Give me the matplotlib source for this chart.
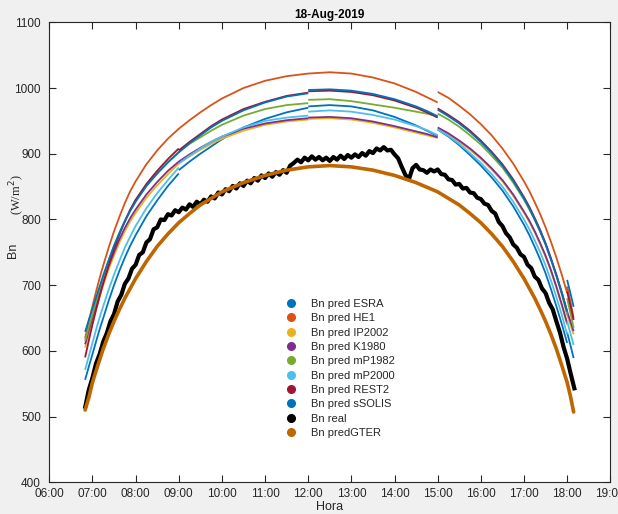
import numpy as np
import matplotlib
matplotlib.use("Agg")
import matplotlib.pyplot as plt
from matplotlib.lines import Line2D

nan = np.nan

# Time grid (hours) of the model predictions; the models are refitted every
# three hours, so each block is drawn as its own segment (NaN breaks the line).
block_a = [6.83, 6.92, 7.0, 7.083, 7.167, 7.25, 7.375, 7.5, 7.625, 7.75, 7.875,
           8.0, 8.25, 8.5, 8.75, 9.0]
block_b = [9.0, 9.25, 9.5, 9.75, 10.0, 10.5, 11.0, 11.5, 12.0]
block_c = [12.0, 12.5, 13.0, 13.5, 14.0, 14.5, 14.75, 15.0]
block_d = [15.0, 15.25, 15.5, 15.75, 16.0, 16.25, 16.5, 16.75, 17.0, 17.125,
           17.25, 17.375, 17.5, 17.625, 17.75, 17.875, 18.0]
block_e = [18.0, 18.075, 18.15]
hours = block_a + [nan] + block_b + [nan] + block_c + [nan] + block_d + [nan] + block_e

esra = [556, 577, 595, 614, 633, 650, 676, 700, 722, 742, 760, 776, 805, 829, 851, 870, nan,
        875, 888, 900, 911, 922, 940, 953, 963, 970, nan,
        972, 974, 972, 966, 956, 943, 935, 927, nan,
        937, 926, 913, 898, 882, 864, 844, 820, 792, 776, 758, 739, 718, 694, 668, 641, 612, nan,
        628, 609, 589]
he1 = [619, 646, 668, 690, 711, 730, 757, 782, 804, 825, 843, 858, 884, 905, 923, 938, nan,
       938, 951, 963, 974, 984, 1000, 1011, 1018, 1022, nan,
       1022, 1024, 1022, 1016, 1007, 994, 986, 978, nan,
       994, 985, 973, 960, 945, 928, 908, 885, 858, 843, 826, 808, 788, 766, 742, 716, 688, nan,
       698, 675, 650]
ip2002 = [605, 627, 645, 664, 683, 700, 724, 745, 765, 782, 797, 810, 833, 852, 869, 885, nan,
          885, 896, 906, 915, 923, 935, 944, 949, 952, nan,
          953, 954, 952, 947, 940, 932, 928, 924, nan,
          938, 929, 918, 906, 892, 876, 858, 836, 810, 796, 780, 762, 743, 721, 696, 669, 640, nan,
          655, 640, 625]
k1980 = [610, 632, 650, 669, 688, 705, 729, 750, 770, 787, 802, 815, 838, 857, 874, 888, nan,
         888, 899, 909, 918, 926, 938, 946, 951, 954, nan,
         955, 956, 954, 949, 942, 934, 930, 925, nan,
         940, 931, 920, 908, 894, 878, 860, 838, 812, 798, 782, 764, 745, 723, 698, 671, 642, nan,
         660, 645, 630]
mp1982 = [615, 637, 655, 675, 694, 712, 737, 760, 780, 798, 814, 828, 851, 870, 887, 903, nan,
          903, 915, 925, 935, 944, 958, 968, 974, 977, nan,
          982, 983, 980, 975, 970, 964, 961, 957, nan,
          961, 952, 941, 928, 914, 897, 879, 856, 830, 815, 799, 781, 762, 739, 714, 686, 655, nan,
          680, 658, 635]
mp2000 = [571, 593, 612, 632, 651, 668, 693, 716, 737, 757, 774, 790, 817, 840, 860, 879, nan,
          885, 897, 908, 918, 926, 940, 950, 955, 958, nan,
          964, 966, 964, 959, 952, 942, 936, 928, nan,
          937, 927, 915, 901, 886, 869, 850, 827, 800, 785, 768, 750, 730, 707, 682, 655, 625, nan,
          645, 627, 609]
rest2 = [590, 617, 640, 662, 683, 703, 730, 755, 777, 797, 815, 830, 854, 874, 892, 908, nan,
         905, 918, 930, 942, 952, 968, 979, 988, 993, nan,
         995, 996, 994, 989, 981, 970, 963, 955, nan,
         969, 959, 948, 935, 920, 903, 884, 861, 834, 819, 802, 784, 764, 741, 716, 689, 660, nan,
         690, 669, 647]
ssolis = [629, 648, 664, 681, 698, 715, 738, 760, 779, 797, 813, 827, 851, 870, 887, 902, nan,
          902, 916, 928, 940, 950, 966, 978, 987, 992, nan,
          997, 998, 996, 991, 983, 972, 965, 957, nan,
          967, 957, 946, 933, 918, 901, 882, 859, 832, 817, 800, 782, 762, 739, 715, 689, 660, nan,
          708, 688, 667]

# GTER prediction (one continuous curve)
gter_hours = [6.83, 6.92, 7.0, 7.125, 7.25, 7.375, 7.5, 7.625, 7.75, 7.875,
              8.0, 8.25, 8.5, 8.75, 9.0, 9.25, 9.5, 10.0, 10.5, 11.0,
              11.5, 12.0, 12.5, 13.0, 13.5, 14.0, 14.5, 15.0, 15.5, 15.75,
              16.0, 16.25, 16.5, 16.75, 17.0, 17.125, 17.25, 17.375, 17.5, 17.625,
              17.75, 17.875, 18.0, 18.08, 18.15]
gter = [510, 530, 552, 578, 603, 625, 645, 663, 680, 695,
        710, 736, 759, 778, 795, 809, 822, 842, 856, 867,
        875, 880, 882, 880, 875, 867, 856, 842, 822, 809,
        795, 778, 759, 736, 710, 695, 680, 663, 645, 625,
        603, 578, 552, 530, 507]

# Measured Bn, one value every 5 minutes from 06:50
real_start_min = 6 * 60 + 50
real = [515, 541, 559, 581, 595, 614, 627, 645, 656, 675, 685, 702,
        710, 725, 731, 746, 750, 765, 770, 785, 788, 800, 799, 808,
        806, 814, 811, 818, 815, 823, 819, 827, 823, 830, 827, 835,
        832, 841, 838, 846, 843, 851, 847, 855, 851, 859, 855, 863,
        859, 867, 863, 870, 865, 872, 868, 875, 871, 882, 886, 891,
        887, 894, 890, 896, 891, 895, 890, 894, 889, 895, 891, 897,
        892, 898, 894, 899, 895, 901, 897, 904, 901, 908, 905, 910,
        905, 906, 899, 893, 880, 868, 861, 878, 883, 876, 875, 871,
        876, 873, 876, 869, 868, 861, 860, 853, 854, 847, 848, 841,
        840, 833, 831, 824, 822, 813, 809, 796, 790, 779, 773, 762,
        757, 747, 743, 731, 726, 713, 708, 695, 688, 673, 663, 645,
        628, 606, 588, 565, 543]
real_hours = (real_start_min + 5 * np.arange(len(real))) / 60.0

labels = ["Bn pred ESRA", "Bn pred HE1", "Bn pred IP2002", "Bn pred K1980",
          "Bn pred mP1982", "Bn pred mP2000", "Bn pred REST2", "Bn pred sSOLIS",
          "Bn real", "Bn predGTER"]
colors = ["#0072BD", "#D95319", "#EDB120", "#7E2F8E", "#77AC30", "#4DBEEE",
          "#A2142F", "#0072BD", "#000000", "#BF6600"]

x_ticks = list(range(6, 20))
x_tick_labels = ["%02d:00" % h for h in x_ticks]
y_ticks = list(range(400, 1101, 100))

plt.rcParams["font.family"] = ["Liberation Sans", "DejaVu Sans"]

fig = plt.figure(figsize=(6.18, 5.14), dpi=100, facecolor="#F0F0F0")
ax = fig.add_axes([49.3 / 618, 31.7 / 514, 561.0 / 618, 460.0 / 514])
ax.set_facecolor("white")

preds = [esra, he1, ip2002, k1980, mp1982, mp2000, rest2, ssolis]
for vals, c in zip(preds, colors[:8]):
    ax.plot(hours, vals, color=c, lw=1.3, solid_capstyle="butt")
ax.plot(real_hours, real, color="black", lw=3.0, solid_joinstyle="round")
ax.plot(gter_hours, gter, color=colors[9], lw=2.6, solid_capstyle="round")

ax.set_xlim(6, 19)
ax.set_ylim(400, 1100)
ax.set_xticks(x_ticks)
ax.set_xticklabels(x_tick_labels)
ax.set_yticks(y_ticks)
ax.tick_params(direction="in", length=5, width=0.8, top=True, right=True,
               labelsize=8.5, colors="#262626", pad=4)
ax.tick_params(axis="y", pad=6)
for s in ax.spines.values():
    s.set_color("#262626")
    s.set_linewidth(0.8)

ax.set_title("18-Aug-2019", fontsize=8.5, fontweight="bold", color="black", pad=3)
ax.set_xlabel("Hora", fontsize=9, color="#262626", labelpad=0.5)
fig.text(13 / 618, 1 - 250 / 514, "Bn", rotation=90, fontsize=9,
         color="#262626", ha="center", va="center")
fig.text(17 / 618, 1 - 195 / 514, r"(W/m$^2$)", rotation=90, fontsize=9,
         family=["Liberation Serif", "DejaVu Serif"], color="#262626",
         ha="center", va="center")

handles = [Line2D([], [], ls="none", marker="o", ms=5.5, color=c) for c in colors]
leg = ax.legend(handles, labels, loc="upper left", frameon=False, fontsize=8,
                bbox_to_anchor=(285 / 618, 1 - 299 / 514),
                bbox_transform=fig.transFigure, handlelength=1.0,
                handletextpad=1.3, labelspacing=0.39, borderpad=0,
                borderaxespad=0)
for t in leg.get_texts():
    t.set_color("#262626")

fig.savefig("out.png", dpi=100, facecolor=fig.get_facecolor())
